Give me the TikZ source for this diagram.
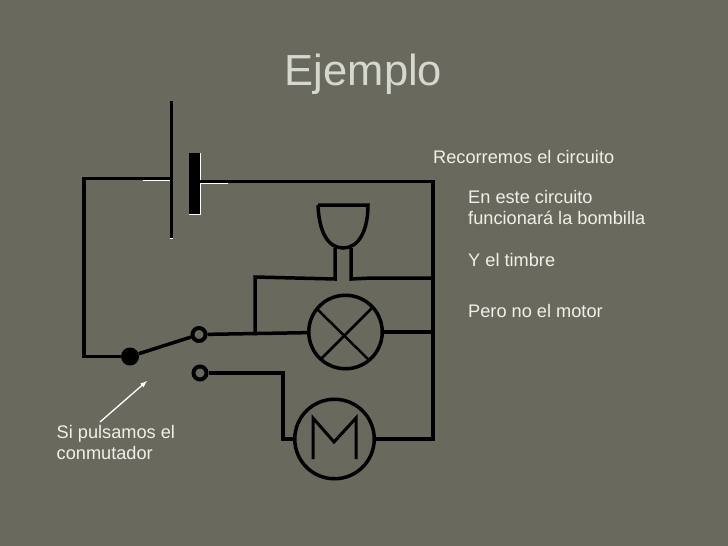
\documentclass[tikz,border=0pt]{standalone}
\usepackage{fontspec}
\setmainfont{Liberation Sans}
\usepackage{tikz}
\usetikzlibrary{arrows, positioning, calc}
\definecolor{slide}{HTML}{696A5D}
\definecolor{titlegray}{HTML}{D6D7CE}
\definecolor{slidetext}{HTML}{F0F0E8}
\tikzset{
  wire/.style={black, line width=3.5pt, line join=miter},
  thinwire/.style={black, line width=2.5pt},
  glint/.style={white, line width=1pt},
  symbol/.style={draw=black, line width=#1, circle, inner sep=0pt},
  label/.style={font=\fontsize{18.2}{20}\selectfont, text=slidetext, anchor=base west, inner sep=0pt, align=left}
}
\begin{document}
\begin{tikzpicture}[x=1pt, y=-1pt]
\fill[slide] (0,0) rectangle (728,546);
\useasboundingbox (0,0) rectangle (728,546);

% Title and texts
\node[font=\fontsize{43.5}{50}\selectfont, text=titlegray, anchor=base, inner sep=0pt] (title) at (363.5,85) {Ejemplo};
\node[label] (recorremos) at (433,163) {Recorremos el circuito};
\node[label] (bombillaA) at (468,203) {En este circuito};
\node[label] (bombillaB) at (468,224) {funcionará la bombilla};
\node[label] (timbre) at (468,266) {Y el timbre};
\node[label] (motortext) at (468,317) {Pero no el motor};
\node[label] (pulsamosA) at (56.5,438) {Si pulsamos el};
\node[label] (pulsamosB) at (56.5,459) {conmutador};

% Symbols
\node[symbol=3.5pt, minimum size=73.5pt] (lamp) at (345.5,332) {};
\node[symbol=3.5pt, minimum size=79.5pt] (motor) at (334.5,439) {};
\node[circle, fill=black, minimum size=18pt, inner sep=0pt] (pivot) at (130,356.5) {};
\node[symbol=4pt, minimum size=13pt] (contactA) at (199,334.5) {};
\node[symbol=4pt, minimum size=13pt] (contactB) at (200,373) {};
\coordinate (plateA) at (171.5,178.5);
\coordinate (plateB) at (200,181.5);
\coordinate (stubA) at (147,178.5);
\coordinate (stubB) at (228,181.5);
\coordinate (cornerA) at (84,178.5);
\coordinate (cornerB) at (433,181.5);
\coordinate (cornerC) at (433,439);
\coordinate (cornerD) at (283,439);
\coordinate (branch) at (255,335);
\coordinate (bellA) at (335,248);
\coordinate (bellB) at (351,248);

% Battery
\draw[black, line width=3pt] (171.5,101) -- (171.5,238);
\fill[black] (189,153) rectangle (200,214);
\draw[glint] (200.5,153) -- (200.5,214.5) -- (189,214.5);
\draw[glint] (143,180.5) -- (170,180.5);
\draw[glint] (201,183.5) -- (228,183.5);
\draw[glint] (170,238.5) -- (173,238.5);

% Main loop
\draw[thinwire] (plateA) -- (stubA);
\draw[thinwire] (plateB) -- (stubB);
\draw[wire] (stubA) -- (cornerA) |- (pivot);
\draw[wire] (stubB) -- (cornerB) -- (cornerC) -- (motor);
\draw[wire] (contactB) -| (cornerD) -- (motor);
\draw[wire] (pivot) -- (contactA);
\draw[wire] (contactA) -- (lamp);
\draw[wire] (lamp.east) -- (lamp.east -| cornerB);

% Bell branch
\draw[wire] (branch) -- (255,277) -- (335,279) -- (bellA);
\draw[wire] (bellB) -- (351,279) -- (372,278) -- (432,278);
\draw[wire] (318,205) -- (368,205)
  .. controls (368,232) and (358,248) .. (343,248)
  .. controls (328,248) and (319,232) .. (318,205);

% Lamp cross
\draw[black, line width=2.5pt] (317,309) -- (369,360);
\draw[black, line width=2.5pt] (373,307) -- (322,358);

% Motor letter
\draw[black, line width=3pt, line join=miter] (313,459) -- (313,418) -- (334,442) -- (356,418) -- (356,459);

% Pointer
\coordinate (pointerfoot) at (100,422);
\coordinate (pointertip) at (147,381);
\draw[-latex, white, line width=1.3pt] (pointerfoot) -- (pointertip);
\end{tikzpicture}
\end{document}
